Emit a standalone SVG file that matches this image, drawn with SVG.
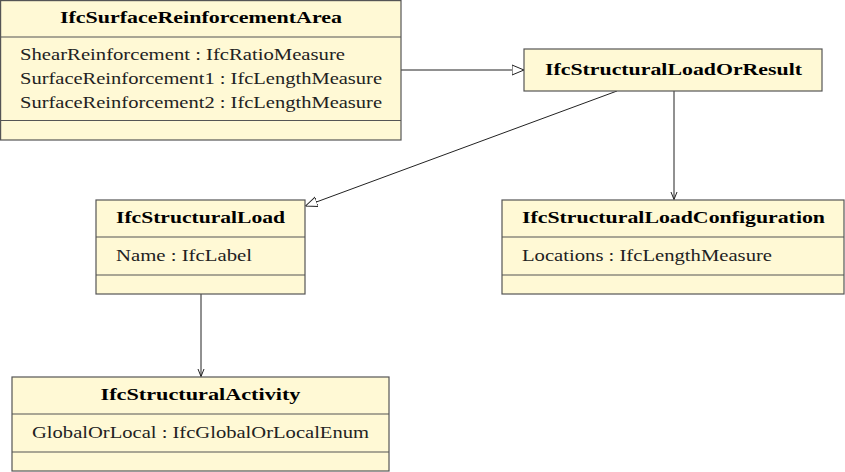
<svg xmlns="http://www.w3.org/2000/svg" width="845" height="472" viewBox="0 0 845 472">
<style>
.box{fill:#fff9d5;stroke:#555;stroke-width:1.2}
.div{stroke:#555;stroke-width:1.2}
.t{font-family:"Liberation Serif","DejaVu Serif",serif;font-size:17px;font-weight:bold;fill:#000}
.a{font-family:"Liberation Serif","DejaVu Serif",serif;font-size:17px;fill:#222}
.c{fill:none;stroke:#222;stroke-width:1}
</style>
<defs>
<marker id="tri" viewBox="0 0 12 12" refX="12" refY="6" markerWidth="12" markerHeight="12" markerUnits="userSpaceOnUse" orient="auto">
<path d="M0,1 L12,6 L0,11 Z" fill="#fff" stroke="#222" stroke-width="1"/>
</marker>
<marker id="vee" viewBox="0 0 8 8" refX="7.5" refY="4" markerWidth="8" markerHeight="8" markerUnits="userSpaceOnUse" orient="auto">
<path d="M0,1 L7.5,4 L0,7" fill="none" stroke="#222" stroke-width="1"/>
</marker>
</defs>
<g id="connectors">
<line class="c" x1="401" y1="70" x2="524" y2="70" marker-end="url(#tri)"/>
<line class="c" x1="617" y1="91" x2="305.5" y2="206" marker-end="url(#tri)"/>
<line class="c" x1="674" y1="91" x2="674" y2="199.5" marker-end="url(#vee)"/>
<line class="c" x1="201" y1="294" x2="201" y2="376.5" marker-end="url(#vee)"/>
</g>
<g id="IfcSurfaceReinforcementArea">
<rect class="box" x="0.6" y="0.6" width="400.4" height="139.4"/>
<line class="div" x1="0.6" y1="37" x2="401" y2="37"/>
<line class="div" x1="0.6" y1="120.5" x2="401" y2="120.5"/>
<text class="t" x="201" y="23" text-anchor="middle" textLength="282" lengthAdjust="spacingAndGlyphs">IfcSurfaceReinforcementArea</text>
<text class="a" x="20" y="60" textLength="325" lengthAdjust="spacingAndGlyphs">ShearReinforcement : IfcRatioMeasure</text>
<text class="a" x="20" y="84" textLength="362" lengthAdjust="spacingAndGlyphs">SurfaceReinforcement1 : IfcLengthMeasure</text>
<text class="a" x="20" y="108" textLength="362" lengthAdjust="spacingAndGlyphs">SurfaceReinforcement2 : IfcLengthMeasure</text>
</g>
<g id="IfcStructuralLoadOrResult">
<rect class="box" x="524" y="49" width="298" height="42"/>
<text class="t" x="673.5" y="75" text-anchor="middle" textLength="257" lengthAdjust="spacingAndGlyphs">IfcStructuralLoadOrResult</text>
</g>
<g id="IfcStructuralLoad">
<rect class="box" x="96" y="200" width="209" height="94"/>
<line class="div" x1="96" y1="237" x2="305" y2="237"/>
<line class="div" x1="96" y1="275" x2="305" y2="275"/>
<text class="t" x="200.5" y="223" text-anchor="middle" textLength="169" lengthAdjust="spacingAndGlyphs">IfcStructuralLoad</text>
<text class="a" x="116" y="261" textLength="136" lengthAdjust="spacingAndGlyphs">Name : IfcLabel</text>
</g>
<g id="IfcStructuralLoadConfiguration">
<rect class="box" x="502" y="200" width="342" height="94"/>
<line class="div" x1="502" y1="237" x2="844" y2="237"/>
<line class="div" x1="502" y1="275" x2="844" y2="275"/>
<text class="t" x="673.5" y="223" text-anchor="middle" textLength="303" lengthAdjust="spacingAndGlyphs">IfcStructuralLoadConfiguration</text>
<text class="a" x="522" y="261" textLength="250" lengthAdjust="spacingAndGlyphs">Locations : IfcLengthMeasure</text>
</g>
<g id="IfcStructuralActivity">
<rect class="box" x="12" y="377" width="377" height="94"/>
<line class="div" x1="12" y1="414" x2="389" y2="414"/>
<line class="div" x1="12" y1="452" x2="389" y2="452"/>
<text class="t" x="200.5" y="400" text-anchor="middle" textLength="200" lengthAdjust="spacingAndGlyphs">IfcStructuralActivity</text>
<text class="a" x="32" y="438" textLength="337" lengthAdjust="spacingAndGlyphs">GlobalOrLocal : IfcGlobalOrLocalEnum</text>
</g>
</svg>
